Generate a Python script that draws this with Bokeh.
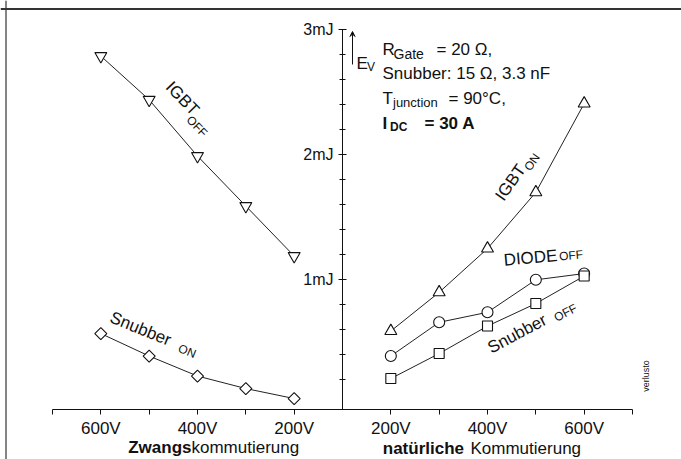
import math
from bokeh.plotting import figure
from bokeh.models import LinearAxis, FixedTicker, Range1d, Label, Arrow, VeeHead, Span
from bokeh.embed import file_html
from bokeh.resources import INLINE

# ---------------- data (energy in mJ) ----------------
forced_volts = [600, 500, 400, 300, 200]          # Zwangskommutierung
igbt_off = [2.79, 2.44, 1.99, 1.59, 1.19]
snubber_on = [0.57, 0.39, 0.23, 0.13, 0.05]

natural_volts = [200, 300, 400, 500, 600]         # natuerliche Kommutierung
igbt_on = [0.59, 0.90, 1.25, 1.70, 2.41]
diode_off = [0.39, 0.66, 0.74, 1.00, 1.05]
snubber_off = [0.21, 0.41, 0.63, 0.81, 1.03]

energy_ticks = [1, 2, 3]
energy_labels = ["1mJ", "2mJ", "3mJ"]
volt_ticks = [100, 200, 300, 400, 500, 600, 700]
volt_labeled = [200, 400, 600]

# ---------------- geometry helpers ----------------
def pos_forced(v):
    return -(v - 100) / 100.0

def pos_natural(v):
    return (v - 100) / 100.0

FONT = "Liberation Sans"
INK = "#111111"
W, H = 681, 459

def X(px):
    return (px - 342.0) / 48.333

def Y(py):
    return (404.3 - py) / 125.0

BASE = Y(409)

p = figure(width=W, height=H, x_range=Range1d(X(0), X(W)), y_range=Range1d(Y(H), Y(0)),
           output_backend="svg", toolbar_location=None,
           x_axis_type=None, y_axis_type=None,
           min_border_left=0, min_border_right=0, min_border_top=0, min_border_bottom=0)
p.outline_line_color = None
p.background_fill_color = "white"
p.border_fill_color = "white"

# scan frame lines
p.add_layout(Span(location=X(5.5), dimension="height", line_color="#333333", line_width=1.2))
p.add_layout(Span(location=Y(8.5), dimension="width", line_color="#333333", line_width=1.8))

# ---------------- axes ----------------
xt = []
xo = {}
for v in volt_ticks:
    for pos in (pos_forced(v), pos_natural(v)):
        if pos == 0:
            continue
        xt.append(pos)
        xo[pos] = f"{v}V" if v in volt_labeled else ""
xaxis = LinearAxis(ticker=FixedTicker(ticks=sorted(xt), minor_ticks=[]),
                   major_label_overrides=xo, fixed_location=BASE, bounds=(-6, 6))
xaxis.axis_line_color = INK
xaxis.major_tick_line_color = INK
xaxis.major_tick_in = 0
xaxis.major_tick_out = 5
xaxis.major_label_standoff = 4
xaxis.major_label_text_font = FONT
xaxis.major_label_text_font_size = "17px"
xaxis.major_label_text_color = INK
p.add_layout(xaxis, "below")

minor = [round(i * 0.2, 1) for i in range(1, 15) if i % 5 != 0]
yaxis = LinearAxis(ticker=FixedTicker(ticks=energy_ticks, minor_ticks=minor),
                   major_label_overrides={t: l for t, l in zip(energy_ticks, energy_labels)},
                   fixed_location=0, bounds=(BASE, 3))
yaxis.axis_line_color = INK
yaxis.major_tick_line_color = INK
yaxis.minor_tick_line_color = INK
yaxis.major_tick_in = 4
yaxis.major_tick_out = 4
yaxis.minor_tick_in = 3
yaxis.minor_tick_out = 3
yaxis.major_label_standoff = 5
yaxis.major_label_text_font = FONT
yaxis.major_label_text_font_size = "16px"
yaxis.major_label_text_color = INK
p.add_layout(yaxis, "left")

# ---------------- series ----------------
xf = [pos_forced(v) for v in forced_volts]
xn = [pos_natural(v) for v in natural_volts]

series = [
    (xf, igbt_off, "inverted_triangle", 12, 0),
    (xf, snubber_on, "square", 8.5, math.pi / 4),
    (xn, igbt_on, "triangle", 12, 0),
    (xn, diode_off, "circle", 11, 0),
    (xn, snubber_off, "square", 10, 0),
]
for xs, ys, mk, sz, ang in series:
    p.line(xs, ys, line_color="#222222", line_width=1)
for xs, ys, mk, sz, ang in series:
    p.scatter(xs, ys, marker=mk, size=sz, angle=ang, fill_color="white",
              line_color=INK, line_width=1.1)

# ---------------- texts ----------------
def lab(text, px, py, size=17, angle=0, align="center", baseline="middle", bold=False):
    p.add_layout(Label(x=X(px), y=Y(py), text=text, angle=math.radians(angle),
                       text_align=align, text_baseline=baseline, text_font=FONT,
                       text_font_size=f"{size}px",
                       text_font_style="bold" if bold else "normal",
                       text_color=INK))

def along(cx, cy, ang, a, n):
    r = math.radians(ang)
    return (cx + a * math.cos(r) + n * math.sin(r), cy - a * math.sin(r) + n * math.cos(r))

# parameter block
lab("R", 382, 49.3, align="left", baseline="alphabetic")
lab("Gate", 393, 53, size=14, align="left", baseline="alphabetic")
lab("= 20 \u03a9,", 436, 49.3, align="left", baseline="alphabetic")
lab("Snubber: 15 \u03a9, 3.3 nF", 382, 73.3, align="left", baseline="alphabetic")
lab("T", 382, 98.3, align="left", baseline="alphabetic")
lab("junction", 392.5, 101.5, size=13, align="left", baseline="alphabetic")
lab("= 90\u00b0C,", 448, 98.3, align="left", baseline="alphabetic")
lab("I", 382, 123.3, align="left", baseline="alphabetic", bold=True)
lab("DC", 389.5, 126.5, size=12, align="left", baseline="alphabetic", bold=True)
lab("= 30 A", 424, 123.3, align="left", baseline="alphabetic", bold=True)

# E_V arrow
p.add_layout(Arrow(x_start=X(352), y_start=Y(64), x_end=X(352), y_end=Y(31),
                   end=VeeHead(size=5, line_color=INK, line_width=1),
                   line_color=INK, line_width=1))
lab("E", 356, 63.3, align="left", baseline="alphabetic")
lab("V", 366.5, 66.5, size=12, align="left", baseline="alphabetic")

# curve labels
lab("IGBT", 182, 98, angle=-46)
lab("OFF", *along(182, 98, -46, 30, 9), size=12, angle=-46)
lab("Snubber", 140, 328.3, angle=-22)
lab("ON", 186.7, 350.7, size=12, angle=-22)
lab("IGBT", 510, 182, angle=55)
lab("ON", *along(510, 182, 55, 29, 6), size=12, angle=55)
lab("DIODE", 530, 257.3, angle=5)
lab("OFF", 570.5, 255, size=12, angle=5)
lab("Snubber", 516.7, 333.3, angle=28)
lab("OFF", 565, 312.3, size=12, angle=28)

# axis titles
lab("Zwangs", 191, 447, align="right", baseline="alphabetic", bold=True)
lab("kommutierung", 191, 447, align="left", baseline="alphabetic")
lab("nat\u00fcrliche", 463.5, 447.5, align="right", baseline="alphabetic", bold=True)
lab("Kommutierung", 470, 447.5, align="left", baseline="alphabetic")

# scan mark
lab("verlusto", 645, 375.5, size=9, angle=90)

open("out.html", "w").write(file_html(p, INLINE))
